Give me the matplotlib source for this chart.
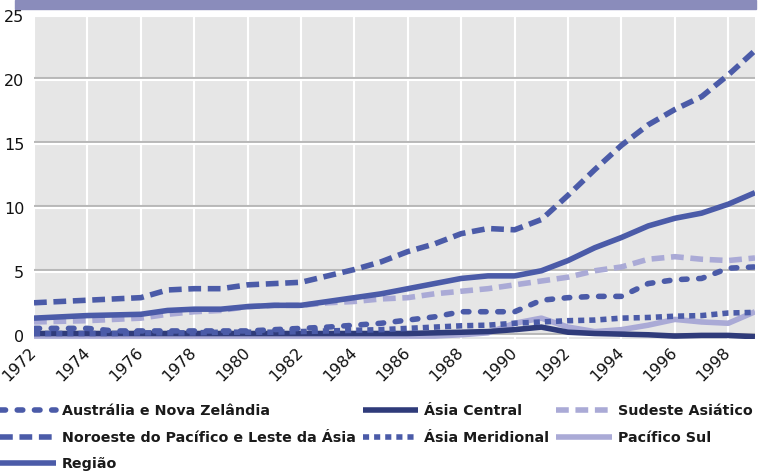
#!/usr/bin/env python3
import matplotlib

matplotlib.use("Agg")
import matplotlib.pyplot as plt
import matplotlib.patheffects as pe
from matplotlib.patches import Rectangle

years = list(range(1972, 2000))

australia = [0.6, 0.6, 0.6, 0.4, 0.4, 0.4, 0.4, 0.4, 0.4, 0.5, 0.6, 0.7, 0.85, 1.0,
             1.25, 1.5, 1.9, 1.9, 1.9, 2.8, 3.0, 3.1, 3.1, 4.1, 4.4, 4.5, 5.3, 5.4]
noroeste = [2.6, 2.7, 2.8, 2.9, 3.0, 3.6, 3.7, 3.7, 4.0, 4.1, 4.2, 4.7, 5.2, 5.8,
            6.6, 7.2, 8.0, 8.4, 8.3, 9.1, 11.0, 13.0, 14.9, 16.5, 17.7, 18.7, 20.4, 22.3]
regiao = [1.4, 1.5, 1.6, 1.65, 1.7, 2.0, 2.1, 2.1, 2.3, 2.4, 2.4, 2.7, 3.0, 3.3,
          3.7, 4.1, 4.5, 4.7, 4.7, 5.1, 5.9, 6.9, 7.7, 8.6, 9.2, 9.6, 10.3, 11.2]
central = [0.2, 0.2, 0.2, 0.2, 0.2, 0.2, 0.2, 0.2, 0.2, 0.2, 0.2, 0.2, 0.2, 0.2,
           0.2, 0.25, 0.3, 0.35, 0.5, 0.7, 0.3, 0.2, 0.15, 0.1, 0.0, 0.05, 0.05, -0.05]
meridional = [0.2, 0.2, 0.2, 0.2, 0.25, 0.25, 0.25, 0.3, 0.3, 0.3, 0.35, 0.4, 0.45, 0.5,
              0.6, 0.7, 0.8, 0.85, 1.0, 1.1, 1.2, 1.25, 1.4, 1.45, 1.55, 1.6, 1.8, 1.85]
sudeste = [1.1, 1.15, 1.2, 1.3, 1.4, 1.7, 1.9, 2.0, 2.3, 2.4, 2.4, 2.6, 2.7, 2.9,
           3.0, 3.3, 3.5, 3.7, 4.0, 4.3, 4.6, 5.1, 5.4, 6.0, 6.2, 6.0, 5.9, 6.1]
pacifico = [0.0, 0.0, 0.0, 0.0, 0.0, 0.0, 0.0, 0.0, 0.0, 0.0, 0.0, 0.0, 0.0, 0.0,
            0.0, 0.0, 0.1, 0.25, 1.0, 1.4, 0.7, 0.35, 0.5, 0.85, 1.3, 1.1, 1.0, 1.9]

labels = {
    "australia": "Austrália e Nova Zelândia",
    "noroeste": "Noroeste do Pacífico e Leste da Ásia",
    "regiao": "Região",
    "central": "Ásia Central",
    "meridional": "Ásia Meridional",
    "sudeste": "Sudeste Asiático",
    "pacifico": "Pacífico Sul",
}

MID = "#4b5ba8"
DARK = "#2f3b7a"
LIGHT = "#aaaad6"
LW = 4.0

fig = plt.figure(figsize=(7.66, 4.73), dpi=100)
ax = fig.add_axes([34 / 766, 1 - 339 / 473, (755 - 34) / 766, (339 - 16) / 473])
ax.set_facecolor("#e6e6e6")
for s in ax.spines.values():
    s.set_visible(False)

# top band
fig.patches.append(Rectangle((15 / 766, 1 - 9 / 473), (756 - 15) / 766, 9 / 473,
                             transform=fig.transFigure, color="#8a8cbb", zorder=0))

ax.plot(years, pacifico, color=LIGHT, lw=LW, solid_capstyle="butt", label=labels["pacifico"], zorder=3)
ax.plot(years, central, color=DARK, lw=LW, solid_capstyle="butt", label=labels["central"], zorder=3)
ax.plot(years, meridional, color=MID, lw=LW, linestyle=(0, (1.1, 0.9)), dash_capstyle="butt",
        label=labels["meridional"], zorder=4)
ax.plot(years, australia, color=MID, lw=LW, linestyle=(0, (1.0, 2.1)), dash_capstyle="round",
        label=labels["australia"], zorder=4)
ax.plot(years, sudeste, color=LIGHT, lw=LW, linestyle=(0, (2.3, 1.2)), dash_capstyle="butt",
        label=labels["sudeste"], zorder=4)
ax.plot(years, regiao, color=MID, lw=LW, solid_capstyle="butt", label=labels["regiao"], zorder=4)
ax.plot(years, noroeste, color=MID, lw=LW, linestyle=(0, (2.3, 1.2)), dash_capstyle="butt",
        label=labels["noroeste"], zorder=4)

ax.set_xlim(1972, 1999)
ax.set_ylim(-0.23, 25)
ax.set_xticks(range(1972, 2000, 2))
ax.set_yticks(range(0, 30, 5))
ax.tick_params(length=0, labelsize=11.5, colors="#111111")
ax.tick_params(axis="y", pad=7)
ax.tick_params(axis="x", pad=8)
for lab in ax.get_xticklabels():
    lab.set_rotation(45)
    lab.set_ha("right")
    lab.set_va("center")
    lab.set_rotation_mode("anchor")

ax.xaxis.grid(True, color="white", lw=1.5)
ax.yaxis.grid(True, color="white", lw=1.5,
              path_effects=[pe.SimpleLineShadow(offset=(0, 1.2), shadow_color="#b8b8b8", alpha=1),
                            pe.Normal()])
ax.set_axisbelow(True)

# legend, ordered to fill columns like the original
handles, labs = ax.get_legend_handles_labels()
lookup = dict(zip(labs, handles))
order = ["australia", "noroeste", "regiao", "central", "meridional", "sudeste", "pacifico"]
leg = fig.legend([lookup[labels[k]] for k in order], [labels[k] for k in order],
                 ncol=3, loc="upper left", bbox_to_anchor=(0.0, 1 - 404 / 473),
                 frameon=False, handlelength=3.9, handletextpad=0.4, columnspacing=0.5,
                 labelspacing=0.88, borderaxespad=0, borderpad=0,
                 prop={"weight": "bold", "size": 10.3})
for t in leg.get_texts():
    t.set_color("#1a1a1a")

fig.savefig("out.png", dpi=100)
